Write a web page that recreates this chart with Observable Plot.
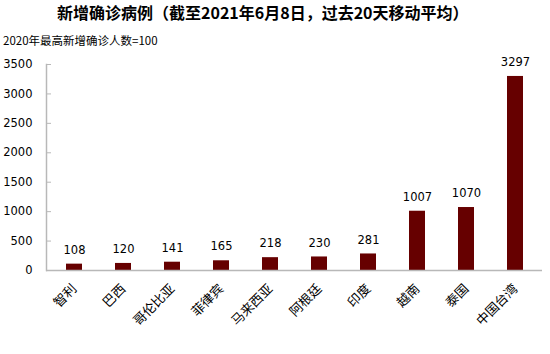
<!DOCTYPE html>
<html>
<head>
<meta charset="utf-8">
<script src="https://cdn.jsdelivr.net/npm/d3@7"></script>
<script src="https://cdn.jsdelivr.net/npm/@observablehq/plot@0.6"></script>
<style>
  body { margin: 0; background: #fff; width: 550px; height: 354px; overflow: hidden; }
  #title { height: 32px; line-height: 34px; padding-left: 57px; font: bold 16px "Noto Sans CJK SC", sans-serif; color: #000; white-space: nowrap; }
  #subtitle { height: 20px; line-height: 22px; padding-left: 3px; font: 11.5px "Noto Sans CJK SC", sans-serif; color: #000; white-space: nowrap; }
  #chart svg { display: block; }
</style>
</head>
<body>
<div id="title">新增确诊病例（截至2021年6月8日，过去20天移动平均）</div>
<div id="subtitle">2020年最高新增确诊人数=100</div>
<div id="chart"></div>
<script>
const categories = ["智利", "巴西", "哥伦比亚", "菲律宾", "马来西亚", "阿根廷", "印度", "越南", "泰国", "中国台湾"];
const values = [108, 120, 141, 165, 218, 230, 281, 1007, 1070, 3297];
const yTicks = [0, 500, 1000, 1500, 2000, 2500, 3000, 3500];

const data = categories.map((c, i) => ({category: c, value: values[i]}));

const chart = Plot.plot({
  width: 550,
  height: 302,
  marginTop: 12,
  marginBottom: 84,
  marginLeft: 46,
  marginRight: 8,
  style: {fontFamily: "DejaVu Sans, sans-serif", fontSize: "11.5px", color: "#000", background: "#fff"},
  x: {domain: categories, paddingInner: 0.68, paddingOuter: 0.34, axis: null},
  y: {domain: [0, 3500], axis: null},
  marks: [
    Plot.axisY({ticks: yTicks, tickSize: 5, dx: 5, tickPadding: 14, stroke: "#b8b8b8", fill: "#000", fontSize: 11.5, tickFormat: d => String(d), label: null}),
    Plot.frame({anchor: "left", stroke: "#b8b8b8", strokeWidth: 1.5}),
    Plot.barY(data, {x: "category", y: "value", fill: "#660000"}),
    Plot.ruleY([0], {stroke: "#b8b8b8", strokeWidth: 1.5}),
    Plot.text(data, {x: "category", y: "value", text: d => String(d.value), dy: -14, fill: "#000", fontSize: 11.5}),
    Plot.text(data, {x: "category", frameAnchor: "bottom", text: "category", rotate: -45, textAnchor: "end", dy: 19, dx: 3, fontSize: 13, fill: "#000", fontFamily: "Noto Sans CJK SC"})
  ]
});

document.getElementById("chart").appendChild(chart);
</script>
</body>
</html>
